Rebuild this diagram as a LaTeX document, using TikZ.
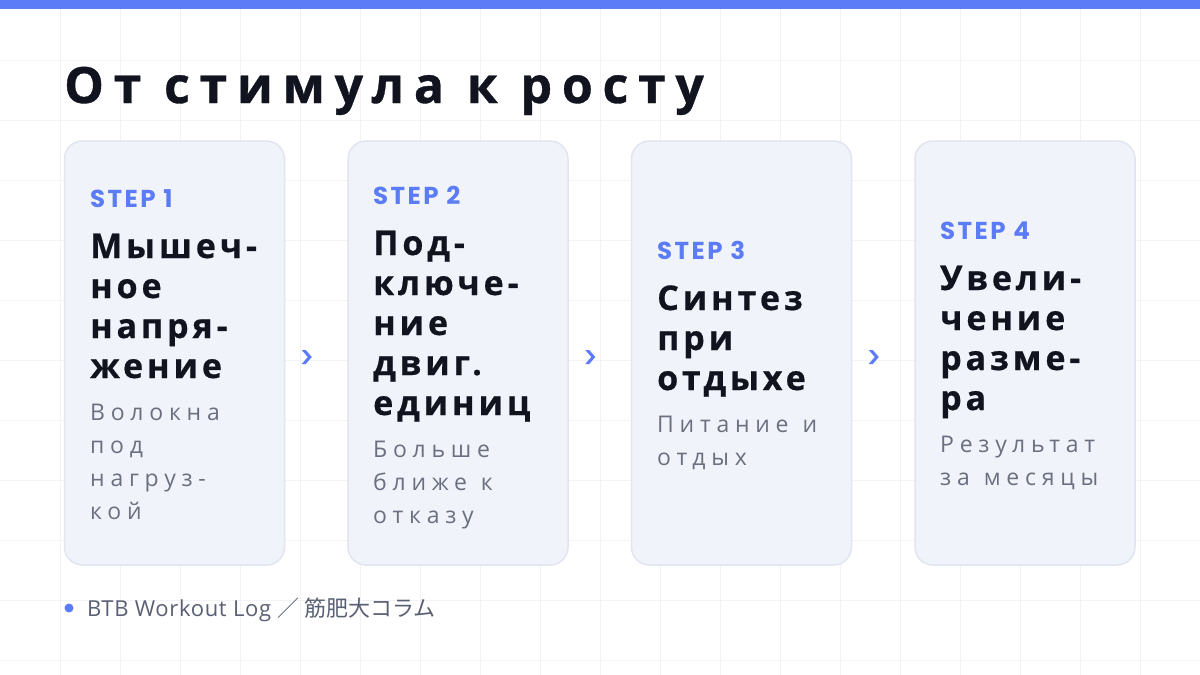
\documentclass[tikz,border=0pt]{standalone}
\usepackage{fontspec}
\usetikzlibrary{calc}
\setmainfont{Open Sans}
\newfontfamily\headfont{Open Sans}[LetterSpace=19.5, BoldFeatures={FakeBold=0.7}]
\newfontfamily\cardfont{Open Sans}[LetterSpace=11.5, BoldFeatures={FakeBold=0.6}]
\newfontfamily\descfont{Open Sans}[LetterSpace=25]
\newfontfamily\stepfont{Poppins}[LetterSpace=10]
\newfontfamily\footlatin{Open Sans}[LetterSpace=3]
\newfontfamily\footcjk{Noto Sans CJK JP}
\newcommand\wsp{\hspace{14pt}}
\definecolor{accent}{HTML}{5B7CF6}
\definecolor{ink}{HTML}{11131F}
\definecolor{muted}{HTML}{6B7080}
\definecolor{cardfill}{HTML}{F1F3FA}
\definecolor{cardline}{HTML}{E1E5F0}
\definecolor{gridc}{HTML}{F2F3F7}
\definecolor{footgray}{HTML}{5A6073}
\tikzset{
  card/.style={draw=cardline, line width=1.5pt, fill=cardfill, rounded corners=18pt,
    minimum width=220pt, minimum height=424pt, inner sep=0pt},
  steplbl/.style={anchor=base west, inner sep=0pt, text=accent,
    font=\stepfont\bfseries\fontsize{24.5}{26}\selectfont},
  ctitle/.style={anchor=base west, inner sep=0pt, text width=195pt, align=left, text=ink,
    font=\cardfont\bfseries\fontsize{34}{40}\selectfont},
  cdesc/.style={anchor=base west, inner sep=0pt, text width=195pt, align=left, text=muted,
    font=\descfont\fontsize{23}{33}\selectfont},
  chev/.style={fill=accent},
}
\begin{document}
\begin{tikzpicture}[x=1pt,y=-1pt]
\useasboundingbox (0,0) rectangle (1200,675);
\fill[white] (0,0) rectangle (1200,675);
\foreach \gx in {60,120,...,1140} \draw[gridc, line width=1pt] (\gx,0) -- (\gx,675);
\foreach \gy in {60,120,...,660} \draw[gridc, line width=1pt] (0,\gy) -- (1200,\gy);
\fill[accent] (0,0) rectangle (1200,9);

\node[anchor=base west, inner sep=0pt, text=ink,
  font=\headfont\bfseries\fontsize{50}{56}\selectfont] (title) at (64,103) {От стимула к росту};

\node[card] (c1) at (174.5,353) {};
\node[card] (c2) at (458,353) {};
\node[card] (c3) at (741.5,353) {};
\node[card] (c4) at (1025,353) {};

\foreach \a/\b in {c1/c2,c2/c3,c3/c4}
  \fill[chev] ($(\a.east)!0.5!(\b.west)+(-14.5,-3)$) -- ++(4,0) -- ++(6,7) -- ++(-6,7) -- ++(-4,0) -- ++(6,-7) -- cycle;

\node[steplbl] (s1) at (90,207) {STEP 1};
\node[ctitle] (t1) at (90,258) {Мышеч-\\ное\\напря-\\жение};
\node[cdesc] (d1) at (90,420) {Волокна\\под\\нагруз-\\кой};

\node[steplbl] (s2) at (373,204) {STEP 2};
\node[ctitle] (t2) at (373,255) {Под-\\ключе-\\ние\\двиг.\\единиц};
\node[cdesc] (d2) at (373,457) {Больше\\ближе\wsp к\\отказу};

\node[steplbl] (s3) at (657,259) {STEP 3};
\node[ctitle] (t3) at (657,310) {Синтез\\при\\отдыхе};
\node[cdesc] (d3) at (657,432) {Питание\wsp и\\отдых};

\node[steplbl] (s4) at (940,239) {STEP 4};
\node[ctitle] (t4) at (940,290) {Увели-\\чение\\разме-\\ра};
\node[cdesc] (d4) at (940,452) {Результат\\за\wsp месяцы};

\node[circle, fill=accent, minimum size=9pt, inner sep=0pt] (dot) at (69,608) {};
\node[anchor=base west, inner sep=0pt, text=footgray,
  font=\footlatin\fontsize{22}{24}\selectfont] (foot) at (87,616) {BTB Workout Log \footcjk ／ 筋肥大コラム};
\end{tikzpicture}
\end{document}
